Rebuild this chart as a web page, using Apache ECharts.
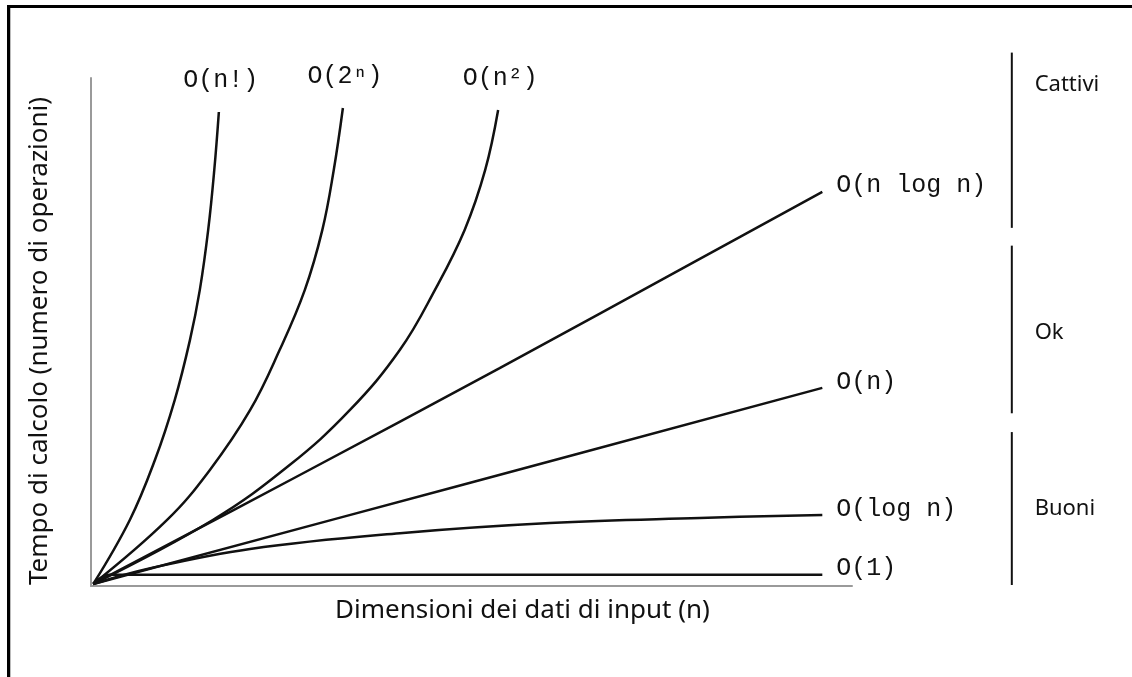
<!DOCTYPE html>
<html>
<head>
<meta charset="utf-8">
<script src="https://cdn.jsdelivr.net/npm/echarts@6/dist/echarts.min.js"></script>
<style>
  html, body { margin: 0; padding: 0; background: #fff; }
  #chart { width: 1132px; height: 677px; }
</style>
</head>
<body>
<div id="chart"></div>
<script>
// Axis titles
const xTitle = 'Dimensioni dei dati di input (n)';
const yTitle = 'Tempo di calcolo (numero di operazioni)';

// Growth curves, as [input size, operations] pairs on a 0–100 scale
const curveNames = ['O(n!)', 'O(2ⁿ)', 'O(n²)', 'O(n log n)', 'O(n)', 'O(log n)', 'O(1)'];
const factorialN = [[0.3,0.4],[5.1,13.0],[8.4,24.8],[11.0,36.6],[13.0,48.4],[14.3,58.3],[15.4,70.1],[16.2,81.9],[16.8,93.3]];
const exponentialN = [[0.3,0.4],[10.0,13.0],[15.6,22.8],[20.9,34.6],[24.8,46.5],[28.1,58.3],[30.4,70.1],[31.9,81.9],[33.1,94.1]];
const quadraticN = [[0.3,0.4],[16.0,13.0],[26.1,23.8],[34.0,34.6],[40.6,46.5],[45.2,58.3],[49.1,70.1],[51.8,81.9],[53.5,93.7]];
const nLogN = [[0.3,0.4],[27.5,21.9],[53.7,42.9],[80.0,64.4],[96.1,77.6]];
const linearN = [[0.3,0.4],[48.0,19.6],[96.1,39.0]];
const logN = [[0.3,0.4],[7.8,3.5],[20.9,7.3],[40.6,10.4],[60.3,12.4],[80.0,13.4],[96.1,14.0]];
const constantN = [[0.3,0.4],[2.5,2.2],[50.0,2.2],[96.1,2.2]];
const curveData = [factorialN, exponentialN, quadraticN, nLogN, linearN, logN, constantN];
// Where each curve's name sits: above its top end or to the right of it
const labelSide = ['top', 'top', 'top', 'right', 'right', 'right', 'right'];

// Complexity groups on the right, with their vertical spans on the value scale
const groupNames = ['Cattivi', 'Ok', 'Buoni'];
const groupSpans = [[105, 70.5], [67, 34], [30.3, 0.2]];
const groupLabelY = [98.6, 49.8, 15.2];

const monoFont = '25px "Liberation Mono", "DejaVu Sans Mono", monospace';
const sansFont = '22px "Noto Sans", "DejaVu Sans", sans-serif';

const chart = echarts.init(document.getElementById('chart'), null, { renderer: 'canvas' });

chart.setOption({
  animation: false,
  backgroundColor: '#ffffff',
  grid: { left: 91, top: 78, right: 280, bottom: 91 },
  xAxis: {
    type: 'value', min: 0, max: 100,
    name: xTitle, nameLocation: 'middle', nameGap: 12,
    nameTextStyle: { fontFamily: '"Noto Sans", sans-serif', fontSize: 26, color: '#111', padding: [0, 0, 0, 102] },
    axisLine: { show: true, lineStyle: { color: '#9a9a9a', width: 2 } },
    axisTick: { show: false }, axisLabel: { show: false }, splitLine: { show: false }
  },
  yAxis: {
    type: 'value', min: 0, max: 100,
    name: yTitle, nameLocation: 'middle', nameGap: 38,
    nameTextStyle: { fontFamily: '"Noto Sans", sans-serif', fontSize: 26, color: '#111', padding: [0, 18, 0, 0] },
    axisLine: { show: true, lineStyle: { color: '#9a9a9a', width: 2 } },
    axisTick: { show: false }, axisLabel: { show: false }, splitLine: { show: false }
  },
  series: curveData.map((d, i) => ({
    name: curveNames[i],
    type: 'line',
    data: d,
    smooth: 0.4,
    symbol: 'none',
    silent: true,
    lineStyle: { color: '#111', width: 2.5 }
  }))
});

// Curve names, frame, group dividers and group names placed from the scales
function drawOverlay() {
  const els = [];
  const px = (x, y) => chart.convertToPixel({ gridIndex: 0 }, [x, y]);

  curveData.forEach((d, i) => {
    const end = px(d[d.length - 1][0], d[d.length - 1][1]);
    if (labelSide[i] === 'top') {
      els.push({ type: 'text', silent: true,
        style: { text: curveNames[i], x: end[0] + 2, y: end[1] - 32, font: monoFont, fill: '#111', align: 'center', verticalAlign: 'middle' } });
    } else {
      els.push({ type: 'text', silent: true,
        style: { text: curveNames[i], x: end[0] + 14, y: end[1] - 6, font: monoFont, fill: '#111', align: 'left', verticalAlign: 'middle' } });
    }
  });

  const dividerX = px(121, 0)[0];
  const groupTextX = px(124, 0)[0];
  groupSpans.forEach((s, i) => {
    const a = px(0, s[0])[1], b = px(0, s[1])[1];
    els.push({ type: 'line', silent: true,
      shape: { x1: dividerX, y1: a, x2: dividerX, y2: b },
      style: { stroke: '#111', lineWidth: 2 } });
    els.push({ type: 'text', silent: true,
      style: { text: groupNames[i], x: groupTextX, y: px(0, groupLabelY[i])[1], font: sansFont, fill: '#111', align: 'left', verticalAlign: 'middle' } });
  });

  // frame on the left and top edges
  els.push({ type: 'rect', silent: true, shape: { x: 7, y: 5, width: 3, height: 672 }, style: { fill: '#000' } });
  els.push({ type: 'rect', silent: true, shape: { x: 7, y: 5, width: 1125, height: 3 }, style: { fill: '#000' } });
  els.push({ type: 'rect', silent: true, shape: { x: 10, y: 8, width: 1, height: 669 }, style: { fill: '#bbb' } });

  chart.setOption({ graphic: els });
}
drawOverlay();
</script>
</body>
</html>
